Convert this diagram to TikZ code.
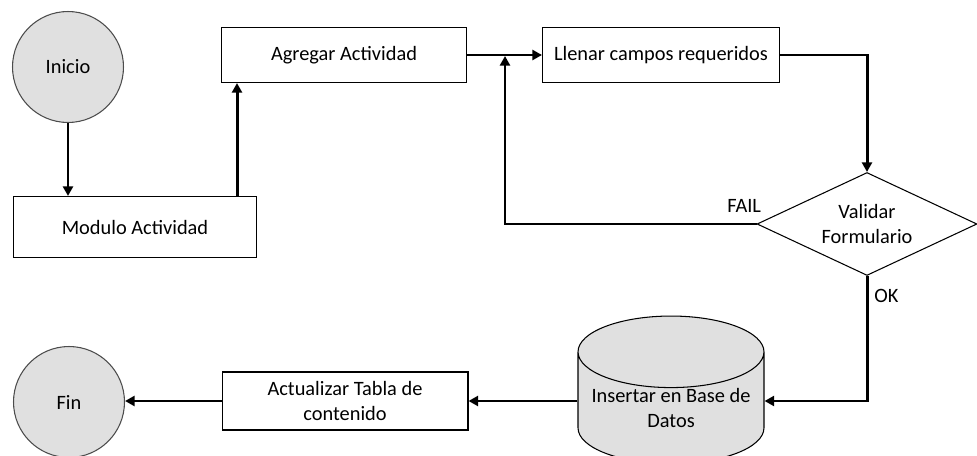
\documentclass[tikz,border=0pt]{standalone}
\usepackage{fontspec}
\setmainfont{Carlito}
\usetikzlibrary{arrows.meta, positioning, shapes.geometric}
\definecolor{grisnodo}{RGB}{224,224,224}

\begin{document}
\begin{tikzpicture}[x=0.02cm,y=-0.02cm,
    every node/.style={font=\fontsize{11.6}{14.5}\selectfont, align=center},
    arr/.style={-{Triangle[length=5.5pt,width=5.7pt]}, line width=1.7pt}]
  \tikzstyle{caja}=[rectangle,draw,line width=0.6pt,fill=white,inner sep=0pt]
  \tikzstyle{nodoC}=[circle,draw=black!70,line width=0.6pt,fill=grisnodo,minimum size=2.22cm,inner sep=0pt]
  \useasboundingbox (0,0) rectangle (977,456);
  % Nodos
  \node[nodoC] (inicio) at (68,67) {Inicio};
  \node[caja, minimum width=4.86cm, minimum height=1.22cm] (modulo) at (135,227) {Modulo Actividad};
  \node[caja, minimum width=4.9cm, minimum height=1.1cm] (agregar) at (344,55) {Agregar Actividad};
  \node[caja, minimum width=4.74cm, minimum height=1.1cm] (llenar) at (661,55) {Llenar campos requeridos};
  \node[diamond, draw, line width=0.6pt, fill=white, aspect=2.13, inner sep=0pt,
        minimum width=4.4cm, minimum height=2.06cm] (valida) at (867,224) {Validar\\Formulario};
  \node[cylinder, shape border rotate=90, draw, line width=0.6pt, fill=grisnodo, aspect=0.45,
        minimum width=3.72cm, minimum height=2.44cm, inner sep=0pt] (bd) at (671,408) {Insertar en Base de\\Datos};
  \node[caja, minimum width=4.92cm, minimum height=1.16cm] (actualizar) at (345,401) {Actualizar Tabla de\\contenido};
  \node[nodoC] (fin) at (69,402) {Fin};
  \coordinate (union) at (505,56);
  % Conexiones
  \draw[arr] (inicio.south) -- (inicio.south |- modulo.north);
  \draw[arr] ([xshift=-0.4cm]modulo.north east) -- ([xshift=-0.4cm]modulo.north east |- agregar.south);
  \draw[arr] (agregar.east) -- (llenar.west);
  \draw[arr] (llenar.east) -| (valida.north);
  \draw[arr] (valida.west) node[above left, inner sep=0pt, xshift=0.12cm, yshift=0.2cm] {FAIL} -| (union);
  \draw[arr] (valida.south) |- node[right, pos=0.08] {OK} (bd.east |- actualizar);
  \draw[arr] (bd.west |- actualizar) -- (actualizar.east);
  \draw[arr] (actualizar.west) -- (fin.east |- actualizar);
\end{tikzpicture}
\end{document}
